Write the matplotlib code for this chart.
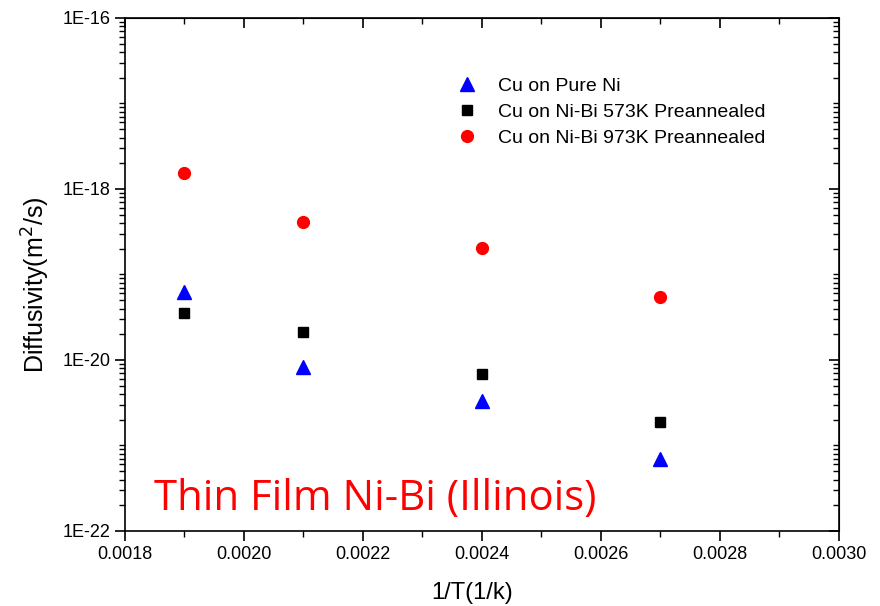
import numpy as np
import matplotlib
matplotlib.use("Agg")
import matplotlib.pyplot as plt
from matplotlib.ticker import LogLocator, FixedLocator, NullFormatter, FuncFormatter

plt.rcParams['font.family'] = ['Liberation Sans', 'DejaVu Sans']

# data
inv_T = [0.0019, 0.0021, 0.0024, 0.0027]
pure_ni = [6.2e-20, 8.3e-21, 3.3e-21, 6.9e-22]
nibi_573 = [3.5e-20, 2.1e-20, 6.9e-21, 1.9e-21]
nibi_973 = [1.55e-18, 4.1e-19, 2.05e-19, 5.5e-20]

x_ticks = [0.0018, 0.0020, 0.0022, 0.0024, 0.0026, 0.0028, 0.0030]
x_minor = [0.0019, 0.0021, 0.0023, 0.0025, 0.0027, 0.0029]
y_ticks = [1e-22, 1e-20, 1e-18, 1e-16]

fig = plt.figure(figsize=(8.8, 6.06), dpi=100)
ax = fig.add_axes([0.142, 0.1238, 0.8114, 0.8465])

ax.plot(inv_T, pure_ni, ls='none', marker='^', ms=9.5, color='#0000ff', label='Cu on Pure Ni')
ax.plot(inv_T, nibi_573, ls='none', marker='s', ms=7, color='black', label='Cu on Ni-Bi 573K Preannealed')
ax.plot(inv_T, nibi_973, ls='none', marker='o', ms=8.5, color='#ff0000', label='Cu on Ni-Bi 973K Preannealed')

ax.set_yscale('log')
ax.set_xlim(0.0018, 0.0030)
ax.set_ylim(1e-22, 1e-16)

ax.xaxis.set_major_locator(FixedLocator(x_ticks))
ax.xaxis.set_minor_locator(FixedLocator(x_minor))
ax.xaxis.set_major_formatter(FuncFormatter(lambda v, p: '%.4f' % v))
ax.yaxis.set_major_locator(FixedLocator(y_ticks))
ax.yaxis.set_minor_locator(LogLocator(base=10, subs=np.arange(1, 10), numticks=50))
ax.yaxis.set_major_formatter(FuncFormatter(lambda v, p: '1E%d' % round(np.log10(v))))
ax.yaxis.set_minor_formatter(NullFormatter())

for s in ax.spines.values():
    s.set_linewidth(1.2)
ax.tick_params(which='major', direction='out', length=7, width=1.2, labelsize=13)
ax.tick_params(which='minor', direction='out', length=4, width=1.0)

# mirrored ticks on top and right, pointing inward
top = ax.secondary_xaxis('top')
top.xaxis.set_major_locator(FixedLocator(x_ticks))
top.xaxis.set_minor_locator(FixedLocator(x_minor))
top.tick_params(which='major', direction='in', length=7, width=1.2, labeltop=False)
top.tick_params(which='minor', direction='in', length=4, width=1.0)
right = ax.secondary_yaxis('right')
right.set_yscale('log')
right.yaxis.set_major_locator(FixedLocator(y_ticks))
right.yaxis.set_minor_locator(LogLocator(base=10, subs=np.arange(1, 10), numticks=50))
right.yaxis.set_minor_formatter(NullFormatter())
right.tick_params(which='major', direction='in', length=7, width=1.2, labelright=False)
right.tick_params(which='minor', direction='in', length=4, width=1.0)

ax.set_xlabel('1/T(1/k)', fontsize=17)
ax.xaxis.set_label_coords(0.486, -0.1)
ax.set_ylabel('Diffusivity(m$^2$/s)', fontsize=18)
ax.yaxis.set_label_coords(-0.102, 0.48)

ax.legend(loc='upper left', bbox_to_anchor=(0.438, 0.918), frameon=False, fontsize=14,
          handletextpad=1.0, labelspacing=0.42, handlelength=1.2)

ax.text(0.04, 0.041, 'Thin Film Ni-Bi (Illinois)', transform=ax.transAxes,
        color='#ff0000', fontsize=30.2, family=['Open Sans', 'DejaVu Sans'])

fig.savefig('out.png', dpi=100)
